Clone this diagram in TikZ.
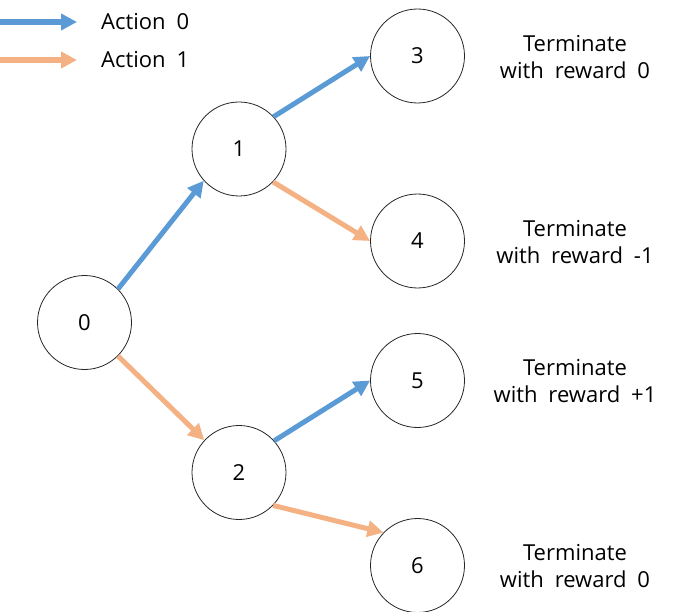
\documentclass[tikz,border=0pt]{standalone}
\usepackage{fontspec}
\setmainfont[WordSpace=1.9]{Open Sans}
\usetikzlibrary{arrows.meta}
\definecolor{actblue}{HTML}{5B9BD5}
\definecolor{actorange}{HTML}{F4B183}
\tikzset{
  state/.style={circle, draw=black!85, line width=0.8pt, minimum size=94pt, inner sep=0pt, font=\fontsize{22}{26}\selectfont},
  act/.style={line width=5pt, -{Triangle[length=16pt,width=16pt]}},
  actzero/.style={act, draw=actblue},
  actone/.style={act, draw=actorange},
  lbl/.style={align=center, font=\fontsize{22}{27.5}\selectfont, inner sep=0pt},
  legtext/.style={anchor=west, font=\fontsize{22}{26}\selectfont, inner sep=0pt}
}
\begin{document}
\begin{tikzpicture}[x=1pt,y=-1pt]
\useasboundingbox (0,0) rectangle (682,612);
% legend
\coordinate (b0) at (0,22);
\coordinate (b1) at (77,22);
\coordinate (o0) at (0,60);
\coordinate (o1) at (77,60);
\draw[actzero, line width=6pt] (b0) -- (b1);
\draw[actone, line width=6pt] (o0) -- (o1);
\node[legtext] (l0) at (101,22) {Action 0};
\node[legtext] (l1) at (101,60) {Action 1};
% states
\node[state] (n0) at (84.5,322.5) {0};
\node[state] (n1) at (239,149) {1};
\node[state] (n2) at (239,472.5) {2};
\node[state] (n3) at (417.5,56) {3};
\node[state] (n4) at (417.5,241) {4};
\node[state] (n5) at (417.5,380.5) {5};
\node[state] (n6) at (417.5,565.5) {6};
% edges
\draw[actzero] (n0.45) -- (n1.222);
\draw[actone] (n0.-45) -- (n2.137);
\draw[actzero] (n1.43) -- (n3.180);
\draw[actone] (n1.-44) -- (n4.180);
\draw[actzero] (n2.42) -- (n5.180);
\draw[actone] (n2.-44) -- (n6.136);
% labels
\node[lbl] (t3) at (575,57) {Terminate\\with reward 0};
\node[lbl] (t4) at (575,242) {Terminate\\with reward -1};
\node[lbl] (t5) at (575,381) {Terminate\\with reward +1};
\node[lbl] (t6) at (575,566) {Terminate\\with reward 0};
\end{tikzpicture}
\end{document}
